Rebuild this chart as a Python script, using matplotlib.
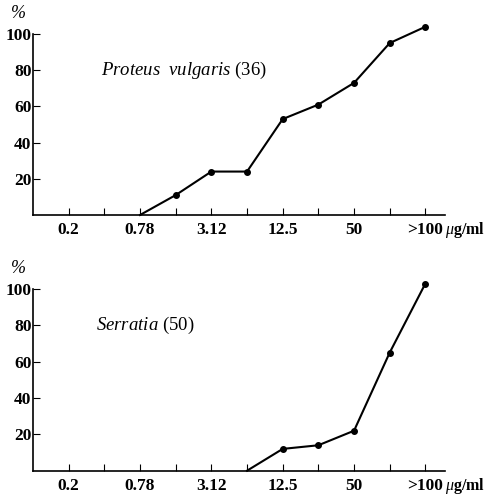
import numpy as np
import matplotlib
matplotlib.use("Agg")
import matplotlib.pyplot as plt
import matplotlib.transforms as mtransforms

plt.rcParams['font.family'] = ['Liberation Serif', 'DejaVu Serif']
plt.rcParams['mathtext.fontset'] = 'custom'
plt.rcParams['mathtext.it'] = 'Liberation Serif:italic'
plt.rcParams['mathtext.rm'] = 'Liberation Serif'

# MIC categories (ug/ml), two-fold dilutions
mic_labels = ['0.2', '0.39', '0.78', '1.56', '3.12', '6.25', '12.5', '25', '50', '100', '>100']
shown_labels = ['0.2', '', '0.78', '', '3.12', '', '12.5', '', '50', '', '>100']

# cumulative % of strains inhibited
proteus_idx = [2, 3, 4, 5, 6, 7, 8, 9, 10]
proteus_pct = [0, 11, 24, 24, 53, 61, 73, 95, 104]

serratia_idx = [5, 6, 7, 8, 9, 10]
serratia_pct = [0, 12, 14, 22, 65, 103]

W, H = 492, 496
fig = plt.figure(figsize=(W / 100, H / 100), dpi=100)

# per panel: data, label, label x, pixel y of zero line, pixels per unit
panels = [
    (proteus_idx, proteus_pct, r'$\it{Proteus\ \ vulgaris}$ (36)', 0.9, 215.0, 1.81),
    (serratia_idx, serratia_pct, r'$\it{Serratia}$ (50)', 0.76, 470.7, 1.817),
]

for idx, pct, label, lx, y0, ppu in panels:
    hgt = 110 * ppu
    ax = fig.add_axes([33 / W, (H - y0) / H, 412 / W, hgt / H])
    ax.plot(idx, pct, color='black', lw=1.5, clip_on=False)
    ax.plot(idx[1:], pct[1:], 'o', color='black', ms=4, clip_on=False)
    ax.set_xlim(-1, 10.55)
    ax.set_ylim(0, 110)
    ax.spines['top'].set_visible(False)
    ax.spines['right'].set_visible(False)
    ax.spines['left'].set_bounds(0, 100)
    ax.spines['left'].set_linewidth(1.2)
    ax.spines['bottom'].set_linewidth(1.2)
    ax.set_xticks(np.arange(len(mic_labels)))
    ax.set_xticklabels(shown_labels, fontsize=12.5, fontweight='bold')
    ax.set_yticks([20, 40, 60, 80, 100])
    ax.set_yticklabels(['20', '40', '60', '80', '100'], fontsize=12.5, fontweight='bold')
    ax.tick_params(axis='x', direction='in', length=5, pad=5)
    ax.tick_params(axis='y', direction='in', length=5, pad=1)
    ax.text(lx, 80, label, fontsize=13.5, va='center', ha='left')
    ax.text(1.0, -0.027, r'$\mu$g/ml', transform=ax.transAxes, fontsize=11.5,
            fontweight='bold', va='top', ha='left')
    trans = mtransforms.blended_transform_factory(ax.transAxes, ax.transData)
    ax.text(-0.036, 106.5, '%', transform=trans, fontsize=13,
            va='bottom', ha='center', style='italic')

fig.savefig('out.png', dpi=100)
